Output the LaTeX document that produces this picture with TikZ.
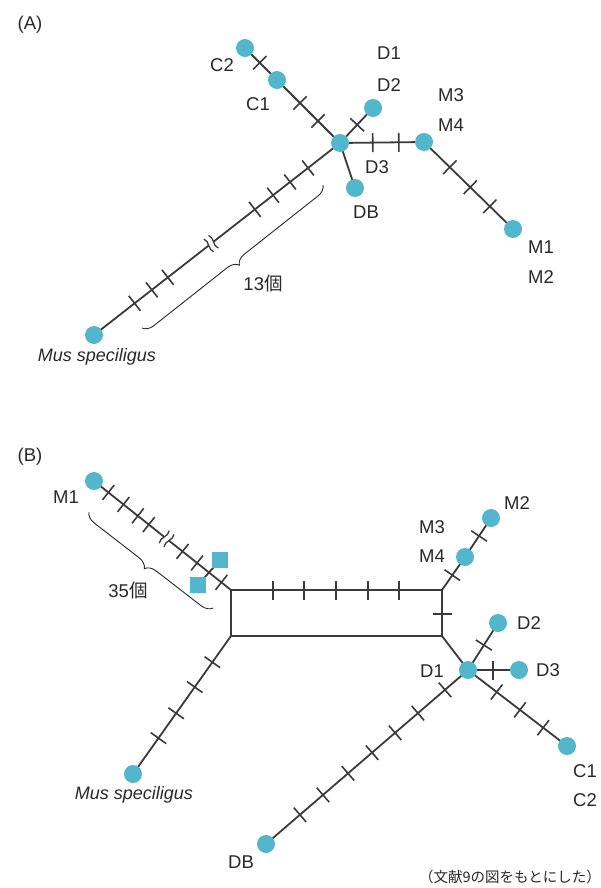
\documentclass[tikz,border=0pt]{standalone}
\usepackage{fontspec}
\setmainfont{Liberation Sans}
\newfontfamily\cjk{Noto Sans CJK JP}
\usetikzlibrary{decorations.markings,decorations.pathreplacing,backgrounds}
\definecolor{hapc}{RGB}{82,182,205}
\definecolor{linec}{RGB}{58,58,58}
\definecolor{textc}{RGB}{40,40,40}
\tikzset{
  hap/.style={circle,fill=hapc,draw=none,minimum size=18pt,inner sep=0pt},
  hsq/.style={rectangle,fill=hapc,draw=none,minimum size=16pt,inner sep=0pt},
  lbl/.style={text=textc,font=\fontsize{18.5}{20}\selectfont,inner sep=0pt},
  edge/.style={draw=linec,line width=1.8pt},
  tk/.style={postaction={decorate,decoration={markings,mark=at position #1 with {\draw[linec,line width=1.6pt] (0pt,-9.5pt) -- (0pt,9.5pt);}}}},
  tks/.style={tk/.list={#1}},
  brk/.style={postaction={decorate,decoration={markings,mark=at position #1 with {
     \fill[white] (-3pt,-6pt) rectangle (3pt,6pt);
     \draw[linec,line width=1.3pt] (-3pt,-8pt) .. controls (-6.5pt,-3pt) and (0.5pt,3pt) .. (-3pt,8pt);
     \draw[linec,line width=1.3pt] (3pt,-8pt) .. controls (-0.5pt,-3pt) and (6.5pt,3pt) .. (3pt,8pt);}}}},
  brc/.style={draw=textc,line width=0.9pt,decorate,decoration={brace,amplitude=11pt}}
}
\begin{document}
\begin{tikzpicture}[x=1pt,y=-1pt]
\useasboundingbox (0,0) rectangle (601,888);
% ---------------- Panel A ----------------
\node[lbl] (tA) at (30,25) {(A)};
\node[hap] (hA) at (340,143) {};
\node[hap] (C2A) at (245,48) {};
\node[hap] (C1A) at (277,80) {};
\node[hap] (D2A) at (373,108) {};
\node[hap] (MA) at (424,142) {};
\node[hap] (DBA) at (355,188) {};
\node[hap] (M1A) at (513,229) {};
\node[hap] (MusA) at (94,335) {};
\begin{scope}[on background layer]
\draw[edge,tks={0.46}] (C2A.center) -- (C1A.center);
\draw[edge,tks={0.365,0.65}] (C1A.center) -- (hA.center);
\draw[edge,tks={0.52}] (hA.center) -- (D2A.center);
\draw[edge,tks={0.39,0.70}] (hA.center) -- (MA.center);
\draw[edge] (hA.center) -- (DBA.center);
\draw[edge,tks={0.29,0.52,0.74}] (MA.center) -- (M1A.center);
\draw[edge,tks={0.13,0.203,0.272,0.346,0.70,0.765,0.835},brk=0.524] (hA.center) -- (MusA.center);
\end{scope}
\node[lbl] (lC2A) at (222,65) {C2};
\node[lbl] (lC1A) at (258,104) {C1};
\node[lbl] (lD1A) at (389,53) {D1};
\node[lbl] (lD2A) at (389,85) {D2};
\node[lbl] (lD3A) at (377,167) {D3};
\node[lbl] (lDBA) at (366,212) {DB};
\node[lbl] (lM3A) at (451,95) {M3};
\node[lbl] (lM4A) at (451,125) {M4};
\node[lbl] (lM1A) at (541,247) {M1};
\node[lbl] (lM2A) at (541,277) {M2};
\node[lbl,font=\fontsize{18}{20}\selectfont\itshape] (lMusA) at (97,357) {Mus speciligus};
\coordinate (bA1) at (323,185);
\coordinate (bA2) at (142,328);
\draw[brc] (bA1) -- (bA2);
\node[lbl] (nA) at (263,284) {13{\cjk 個}};
% ---------------- Panel B ----------------
\node[lbl] (tB) at (30,457) {(B)};
\node[hap] (M1B) at (94,481) {};
\node[hsq] (sq1) at (220,560) {};
\node[hsq] (sq2) at (198,585) {};
\coordinate (TL) at (231,590);
\coordinate (TR) at (442,590);
\coordinate (BL) at (231,636);
\coordinate (BR) at (442,636);
\node[hap] (M4B) at (465,557) {};
\node[hap] (M2B) at (491,518) {};
\node[hap] (D1B) at (468,670) {};
\node[hap] (D2B) at (498,623) {};
\node[hap] (D3B) at (519,670) {};
\node[hap] (C1B) at (567,746) {};
\node[hap] (DBB) at (266,844) {};
\node[hap] (MusB) at (133,774) {};
\begin{scope}[on background layer]
\draw[edge,tks={0.105,0.215,0.32,0.40,0.646,0.752,0.93},brk=0.53] (M1B.center) -- (TL);
\draw[edge] (sq1.center) -- (sq2.center);
\draw[edge,tks={0.199,0.346,0.498,0.649,0.796}] (TL) -- (TR);
\draw[edge,tks={0.52}] (TR) -- (BR);
\draw[edge] (TL) -- (BL);
\draw[edge] (BL) -- (BR);
\draw[edge,tks={0.45}] (TR) -- (M4B.center);
\draw[edge,tks={0.54}] (M4B.center) -- (M2B.center);
\draw[edge] (BR) -- (D1B.center);
\draw[edge,tks={0.53}] (D1B.center) -- (D2B.center);
\draw[edge,tks={0.49}] (D1B.center) -- (D3B.center);
\draw[edge,tks={0.29,0.525,0.76}] (D1B.center) -- (C1B.center);
\draw[edge,tks={0.114,0.248,0.361,0.475,0.594,0.718,0.832}] (D1B.center) -- (DBB.center);
\draw[edge,tks={0.19,0.37,0.56,0.74}] (BL) -- (MusB.center);
\end{scope}
\node[lbl] (lM1B) at (66,497) {M1};
\node[lbl] (lM2B) at (517,503) {M2};
\node[lbl] (lM3B) at (432,527) {M3};
\node[lbl] (lM4B) at (432,556) {M4};
\node[lbl] (lD2B) at (529,623) {D2};
\node[lbl] (lD3B) at (548,670) {D3};
\node[lbl] (lD1B) at (432,671) {D1};
\node[lbl] (lC1B) at (585,771) {C1};
\node[lbl] (lC2B) at (585,800) {C2};
\node[lbl] (lDBB) at (241,862) {DB};
\node[lbl,font=\fontsize{18}{20}\selectfont\itshape] (lMusB) at (134,795) {Mus speciligus};
\coordinate (bB1) at (213,608);
\coordinate (bB2) at (89,512);
\draw[brc] (bB1) -- (bB2);
\node[lbl] (nB) at (128,591) {35{\cjk 個}};
\node[lbl,anchor=east,font=\cjk\fontsize{14.5}{16}\selectfont] (cite) at (601,877) {（文献9の図をもとにした）};
\end{tikzpicture}
\end{document}
